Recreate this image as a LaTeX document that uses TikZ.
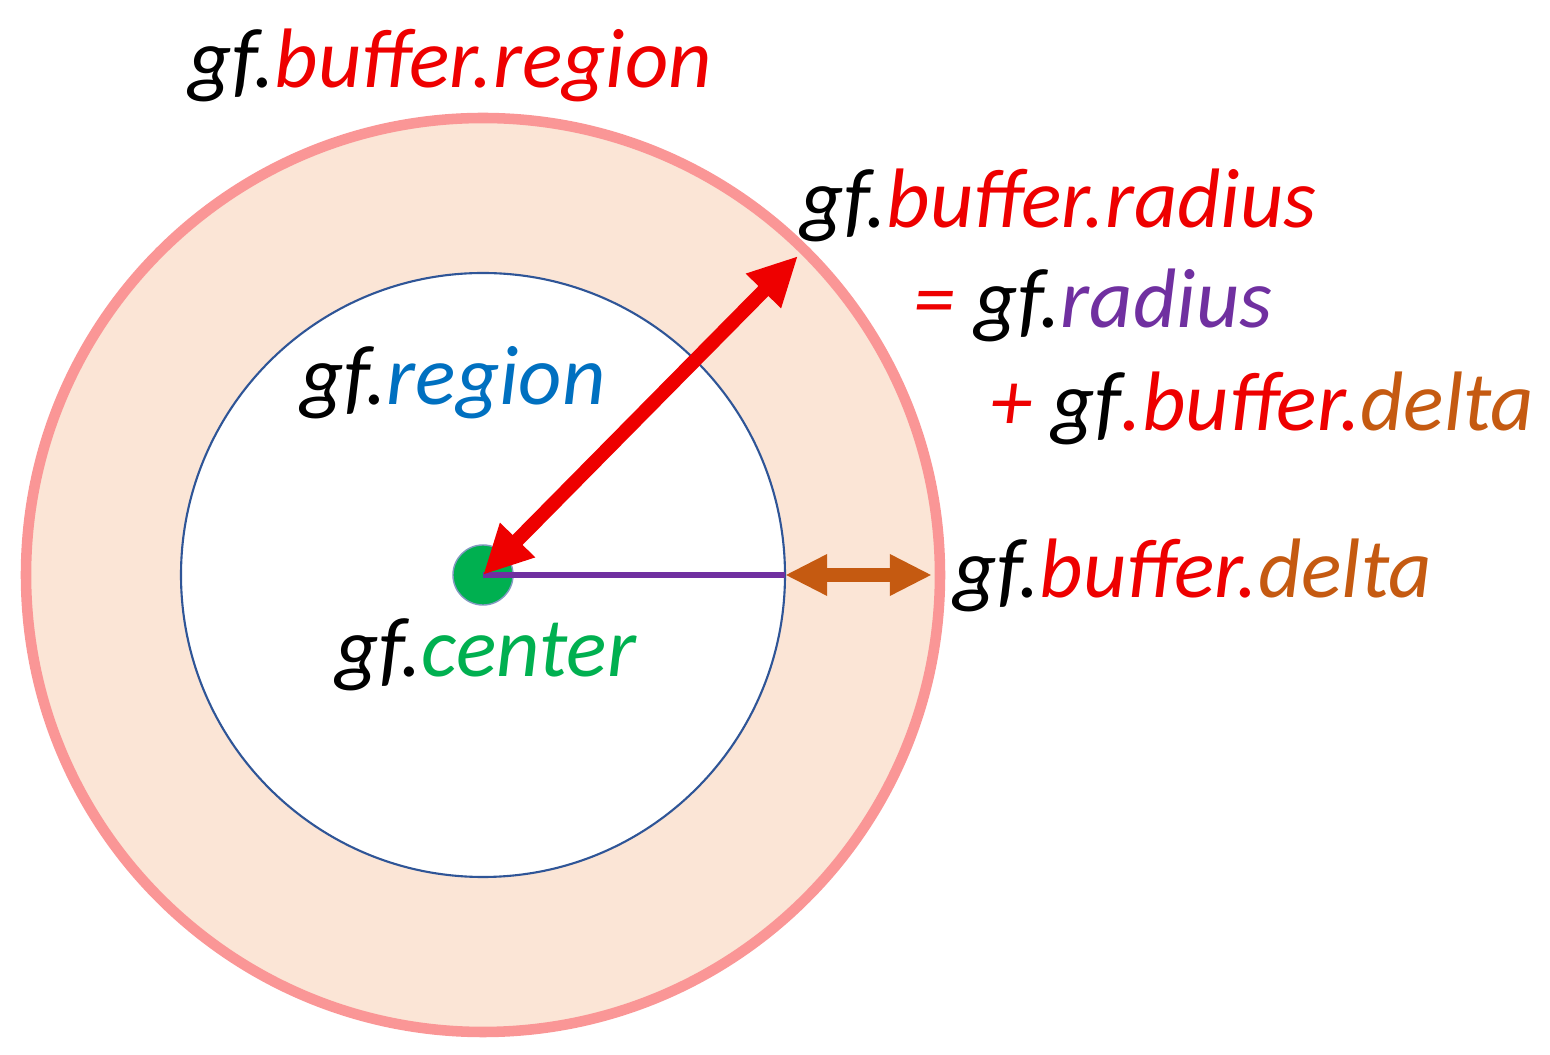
\documentclass[tikz,border=0pt]{standalone}
\usepackage{fontspec}
\setmainfont{Carlito}
\usetikzlibrary{arrows.meta}
\definecolor{gfred}{RGB}{238,0,0}
\definecolor{gfblue}{RGB}{0,112,192}
\definecolor{gfpurple}{RGB}{112,48,160}
\definecolor{gfgreen}{RGB}{0,176,80}
\definecolor{gfbrown}{RGB}{197,90,17}
\definecolor{gfpeach}{RGB}{251,229,214}
\definecolor{gfpink}{RGB}{250,150,150}
\definecolor{gfnavy}{RGB}{47,85,151}
\begin{document}
\begin{tikzpicture}[x=0.01cm,y=-0.01cm,
    lbl/.style={font=\fontsize{24}{28}\selectfont\itshape, inner sep=0pt}]
        \useasboundingbox (0,0) rectangle (1550,1055);

        \coordinate (center) at (483,575);
        \fill[gfpeach, draw=gfpink, line width=3pt] (center) circle (457);
        \fill[white, draw=gfnavy, line width=0.6pt] (center) circle (302);

        \coordinate (inneredge) at (785,575);
        \coordinate (outeredge) at (932,575);
        \coordinate (outerpt) at (798,256);

        \node (dot) [circle, fill=gfgreen, draw=gfnavy!60, minimum size=0.6cm, inner sep=0pt] at (center) {};
        \draw[gfpurple, line width=1.5pt] (center) -- (inneredge);
        \draw[gfred, line width=4pt, {Triangle[length=14pt,width=13pt]}-{Triangle[length=14pt,width=13pt]}] (center) -- (outerpt);
        \draw[gfbrown, line width=4pt, {Triangle[length=12pt,width=11pt]}-{Triangle[length=12pt,width=11pt]}] (inneredge) -- (outeredge);

        \node (bufregion) [lbl, anchor=west] at (188,65) {gf.\textcolor{gfred}{buffer.region}};
        \node (bufradius) [lbl, anchor=west] at (800,205) {gf.\textcolor{gfred}{buffer.radius}};
        \node (eqradius) [lbl, anchor=west] at (913,305) {\textcolor{gfred}{=} gf.\textcolor{gfpurple}{radius}};
        \node (plusdelta) [lbl, anchor=west] at (990,408) {\textcolor{gfred}{+} gf\textcolor{gfred}{.buffer.}\textcolor{gfbrown}{delta}};
        \node (region) [lbl, anchor=west] at (300,383) {gf.\textcolor{gfblue}{region}};
        \node (bufdelta) [lbl, anchor=west] at (953,575) {gf.\textcolor{gfred}{buffer.}\textcolor{gfbrown}{delta}};
        \node (centerlbl) [lbl, anchor=west] at (335,655) {gf.\textcolor{gfgreen}{center}};
    \end{tikzpicture}
\end{document}
